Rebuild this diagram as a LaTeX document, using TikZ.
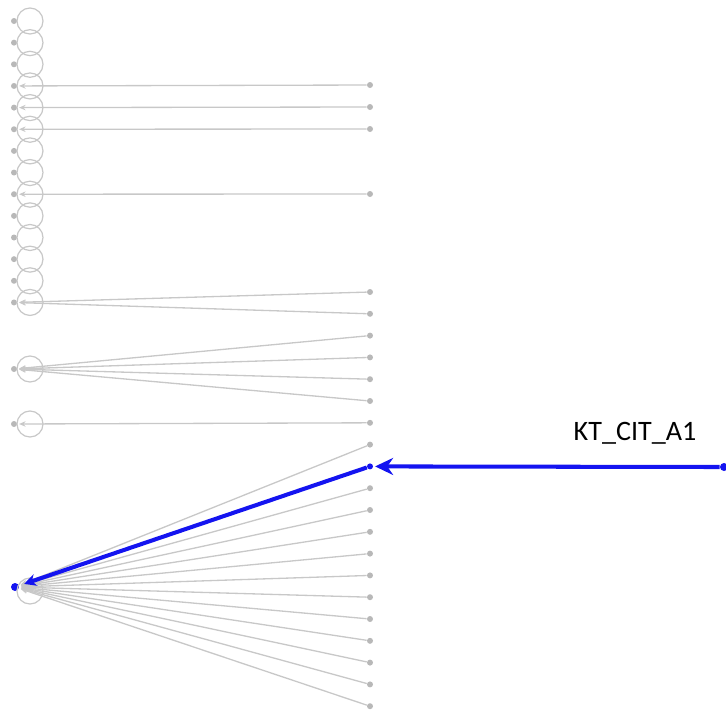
\documentclass[tikz,border=0pt]{standalone}
\usepackage{fontspec}
\setmainfont{Carlito}
\usetikzlibrary{arrows.meta,positioning}
\definecolor{edgegray}{HTML}{C8C8C8}
\definecolor{dotgray}{HTML}{B8B8B8}
\definecolor{hiblue}{HTML}{1414F0}

\begin{document}
\begin{tikzpicture}[x=0.02cm,y=-0.02cm,
  dot/.style={circle,fill=dotgray,inner sep=0pt,minimum size=0.12cm},
  hidot/.style={circle,fill=hiblue,inner sep=0pt,minimum size=0.16cm},
  selfloop/.style={draw=edgegray,line width=0.7pt},
  link/.style={draw=edgegray,line width=0.75pt,-{Stealth[length=0.13cm,width=0.11cm]},shorten >=1pt},
  hilink/.style={draw=hiblue,line width=2.3pt,-{Stealth[length=0.36cm,width=0.34cm]},shorten >=1pt}]
\useasboundingbox (0,0) rectangle (726,711);
% left column
\foreach \i in {1,...,14}
  \node[dot] (L\i) at (14,{21+21.65*(\i-1)}) {};
\node[dot] (L15) at (14,369) {};
\node[dot] (L16) at (14,424) {};
\node[hidot] (L17) at (15,587) {};
% self loops
\foreach \i in {1,...,16}
  \draw[selfloop] ([xshift=0.32cm]L\i.center) circle (0.26cm);
\draw[selfloop] ([xshift=0.3cm,yshift=-0.08cm]L17.center) circle (0.26cm);
% right column
\foreach \y [count=\k] in {85,107,129,194}
  \node[dot] (T\k) at (370,\y) {};
\foreach \k in {1,...,20}{
  \ifnum\k=9 \def\dotcol{hiblue}\else\def\dotcol{dotgray}\fi
  \node[dot,fill=\dotcol] (R\k) at (370,{292+21.8*(\k-1)}) {};
}
% links
\foreach \a/\b in {1/4,2/5,3/6,4/9}
  \draw[link] (T\a) -- (L\b);
\draw[link] (R1) -- (L14);
\draw[link] (R2) -- (L14);
\foreach \k in {3,...,6}
  \draw[link] (R\k) -- (L15);
\draw[link] (R7) -- (L16);
\foreach \k in {8,10,11,...,20}
  \draw[link] (R\k) -- (L17);
% highlighted path
\node[hidot] (src) at (724,467) {};
\draw[hilink] (src) -- (R9);
\draw[hilink,-{Stealth[length=0.24cm,width=0.24cm]},shorten >=3pt] (R9) -- (L17);
\node[font=\fontsize{16}{19}\selectfont] (lab) at (635,433) {KT\_CIT\_A1};
\end{tikzpicture}
\end{document}
